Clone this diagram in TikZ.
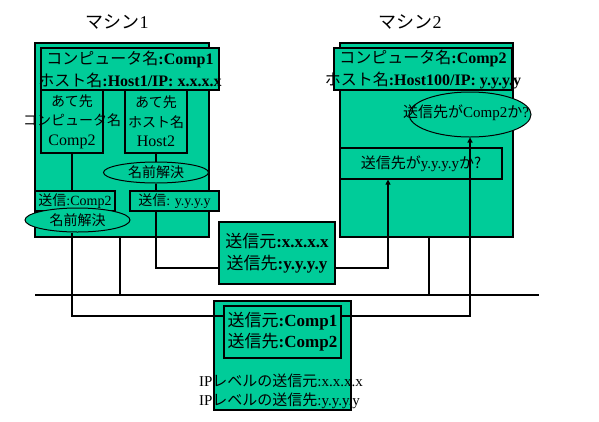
\documentclass[tikz,border=0pt]{standalone}
\usepackage{fontspec}
\setmainfont{Liberation Serif}
\newfontfamily\jp{Noto Sans CJK JP}
\usetikzlibrary{shapes.geometric,arrows.meta}
\definecolor{pc}{RGB}{0,204,153}

\begin{document}
\begin{tikzpicture}[x=1pt, y=-1pt,
  box/.style={draw, fill=pc, line width=1.2pt, inner sep=0pt},
  oval/.style={draw, fill=pc, ellipse, line width=1pt, inner sep=0pt},
  txt/.style={align=center, inner sep=0pt},
  wire/.style={line width=1.2pt},
  arr/.style={wire, -{Triangle[width=5pt,length=5pt]}}]
  \useasboundingbox (0,0) rectangle (599,421);
  % machine 1
  \node[txt, font=\fontsize{18}{20}\selectfont] (t1) at (117,22) {{\jp マシン}1};
  \node[box, minimum width=174pt, minimum height=194pt] (m1) at (122,140) {};
  \node[box, minimum width=178pt, minimum height=42pt] (h1) at (130,69) {};
  \node[txt, font=\fontsize{16}{22}\selectfont] (h1t) at (h1) {{\jp コンピュータ名}\textbf{:Comp1}\\{\jp ホスト名}\textbf{:Host1/IP: x.x.x.x}};
  \node[box, minimum width=62pt, minimum height=63pt] (d1) at (72,121.5) {};
  \node[txt, font=\fontsize{14}{19.5}\selectfont] (d1t) at (d1) {{\jp あて先}\\{\jp コンピュータ名}\\{\fontsize{16}{19.5}\selectfont Comp2}};
  \node[box, minimum width=62pt, minimum height=63pt] (d2) at (156,121.5) {};
  \node[txt, font=\fontsize{14}{19.5}\selectfont] (d2t) at (d2) {{\jp あて先}\\{\jp ホスト名}\\{\fontsize{16}{19.5}\selectfont Host2}};
  \node[oval, minimum width=105pt, minimum height=21pt] (r1) at (156,172.5) {};
  \node[txt, font=\fontsize{14}{16}\selectfont] (r1t) at (r1) {\jp 名前解決};
  \node[box, minimum width=80pt, minimum height=20pt] (s1) at (75,201) {};
  \node[txt, font=\fontsize{14}{16}\selectfont] (s1t) at (s1) {{\jp 送信}:Comp2};
  \node[box, minimum width=89pt, minimum height=20pt] (s2) at (174.5,201) {};
  \node[txt, font=\fontsize{14}{16}\selectfont] (s2t) at (s2) {{\jp 送信}: y.y.y.y};
  \node[oval, minimum width=105pt, minimum height=24pt] (r2) at (77.5,220) {};
  \node[txt, font=\fontsize{14}{16}\selectfont] (r2t) at (r2) {\jp 名前解決};
  \draw[wire] (d1.south) -- (d1.south |- s1.north);
  \draw[wire] (d2.south) -- (r1.north);
  \draw[wire] (r1.south) -- (r1.south |- s2.north);

  % machine 2
  \node[txt, font=\fontsize{18}{20}\selectfont] (t2) at (410,22) {{\jp マシン}2};
  \node[box, minimum width=173pt, minimum height=194pt] (m2) at (426.5,140) {};
  \node[box, minimum width=178pt, minimum height=42pt] (h2) at (423,69) {};
  \node[txt, font=\fontsize{16}{22}\selectfont] (h2t) at (h2) {{\jp コンピュータ名}\textbf{:Comp2}\\{\jp ホスト名}\textbf{:Host100/IP: y.y.y.y}};
  \node[oval, minimum width=122pt, minimum height=45pt] (c1) at (470,114.5) {};
  \node[txt, font=\fontsize{15}{16}\selectfont] (c1t) at (466,113) {{\jp 送信先が}Comp2{\jp か}?};
  \node[box, minimum width=162pt, minimum height=31pt] (c2) at (421,163.5) {};
  \node[txt, font=\fontsize{15}{16}\selectfont] (c2t) at (c2) {{\jp 送信先が}y.y.y.y{\jp か?}};

  % network
  \coordinate (busl) at (35,295);
  \coordinate (busr) at (539,295);
  \draw[wire] (busl) -- (busr);
  \draw[wire] ([xshift=-2pt]m1.south) -- ([xshift=-2pt]m1.south |- busl);
  \draw[wire] ([xshift=2.5pt]m2.south) -- ([xshift=2.5pt]m2.south |- busl);

  % packets
  \node[box, minimum width=116pt, minimum height=62pt] (p1) at (277,253) {};
  \node[txt, font=\fontsize{17}{22}\selectfont] (p1t) at (p1) {{\jp 送信元}\textbf{:x.x.x.x}\\{\jp 送信先}\textbf{:y.y.y.y}};
  \node[box, minimum width=137pt, minimum height=109pt] (q1) at (282.5,355.5) {};
  \node[box, minimum width=117pt, minimum height=52pt] (q2) at (282.5,332) {};
  \node[txt, font=\fontsize{17}{21}\selectfont] (q2t) at (q2) {{\jp 送信元}\textbf{:Comp1}\\{\jp 送信先}\textbf{:Comp2}};
  \node[txt, align=left, font=\fontsize{15}{19}\selectfont] (ipt) at (281,391.5) {IP{\jp レベルの送信元}:x.x.x.x\\IP{\jp レベルの送信先}:y.y.y.y};
  \draw[wire] (r1.south |- s2.south) |- ([yshift=-15pt]p1.west);
  \draw[arr] ([yshift=-15pt]p1.east) -| ([xshift=-33pt]c2.south);
  \draw[wire] (d1.south |- r2.south) |- ([yshift=16pt]q2.west);
  \draw[arr] ([yshift=16pt]q2.east) -| (c1.south);
\end{tikzpicture}
\end{document}
